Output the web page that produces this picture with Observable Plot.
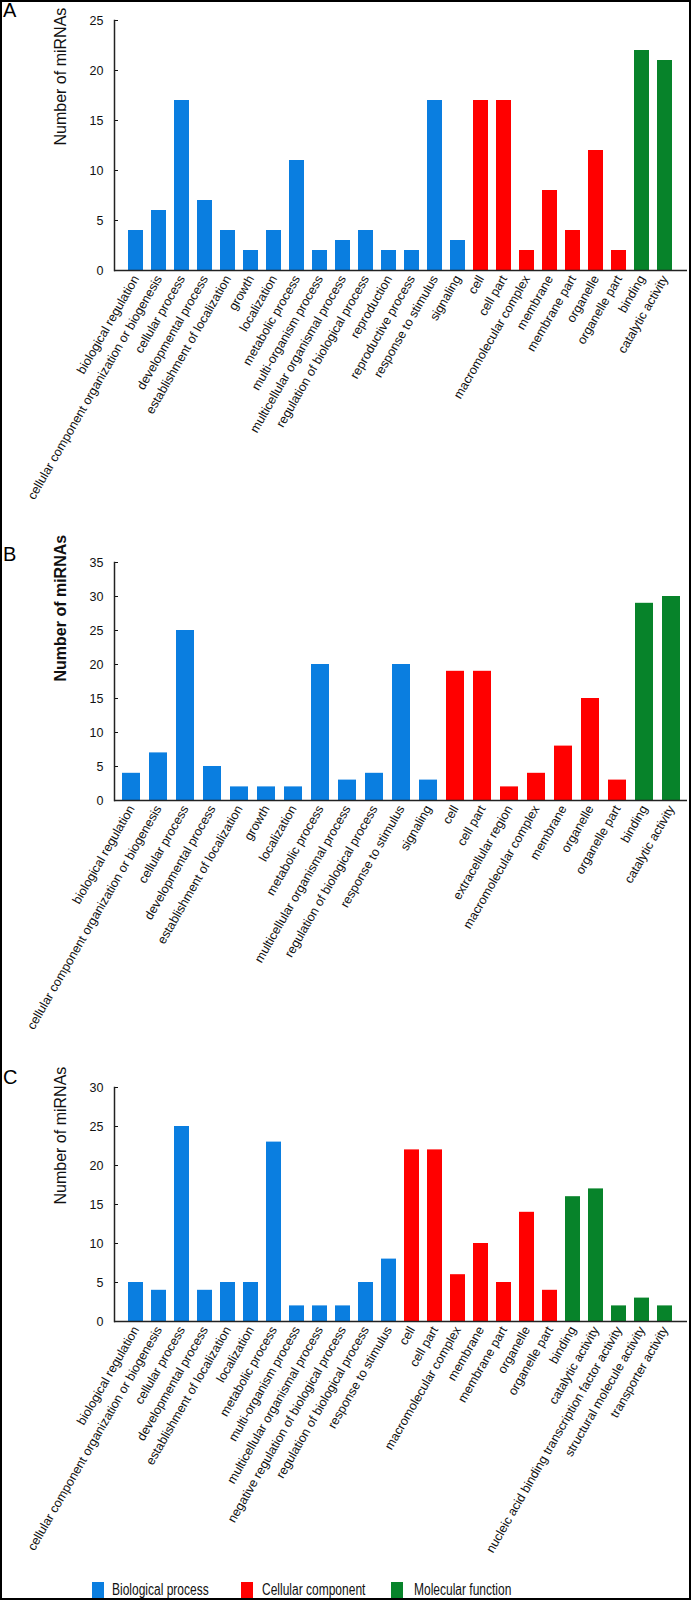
<!DOCTYPE html>
<html>
<head>
<meta charset="utf-8">
<script src="https://cdn.jsdelivr.net/npm/d3@7"></script>
<script src="https://cdn.jsdelivr.net/npm/@observablehq/plot@0.6"></script>
<style>
  body { margin: 0; background: #fff; font-family: "Liberation Sans", Arial, sans-serif; }
  #fig { position: relative; width: 691px; height: 1600px; background: #fff; overflow: hidden; }
  #border { position: absolute; left: 0; top: 0; width: 691px; height: 1600px; box-sizing: border-box; border: 2px solid #000; pointer-events: none; z-index: 5; }
  .panel { position: absolute; left: 0; }
  .letter { position: absolute; left: 3px; font-size: 20px; line-height: 20px; color: #000; }
  .sw { position: absolute; width: 12px; height: 16px; }
  .lg { position: absolute; font-size: 16px; line-height: 16px; color: #111; white-space: nowrap; transform: scaleX(0.75); transform-origin: left center; }
</style>
</head>
<body>
<div id="fig"><div id="border"></div></div>
<script>
// ---------- data ----------
const groupNames = ["Biological process", "Cellular component", "Molecular function"];
const groupColors = ["#0a7ee0", "#ff0000", "#07832a"];
const yTitle = "Number of miRNAs";

// Panel A
const aCategories = [
  "biological regulation", "cellular component organization or biogenesis", "cellular process",
  "developmental process", "establishment of localization", "growth", "localization",
  "metabolic process", "multi-organism process", "multicellular organismal process",
  "regulation of biological process", "reproduction", "reproductive process",
  "response to stimulus", "signaling",
  "cell", "cell part", "macromolecular complex", "membrane", "membrane part", "organelle", "organelle part",
  "binding", "catalytic activity"
];
const aValues = [4, 6, 17, 7, 4, 2, 4, 11, 2, 3, 4, 2, 2, 17, 3, 17, 17, 2, 8, 4, 12, 2, 22, 21];
const aGroupCounts = [15, 7, 2];

// Panel B
const bCategories = [
  "biological regulation", "cellular component organization or biogenesis", "cellular process",
  "developmental process", "establishment of localization", "growth", "localization",
  "metabolic process", "multicellular organismal process", "regulation of biological process",
  "response to stimulus", "signaling",
  "cell", "cell part", "extracellular region", "macromolecular complex", "membrane", "organelle", "organelle part",
  "binding", "catalytic activity"
];
const bValues = [4, 7, 25, 5, 2, 2, 2, 20, 3, 4, 20, 3, 19, 19, 2, 4, 8, 15, 3, 29, 30];
const bGroupCounts = [12, 7, 2];

// Panel C
const cCategories = [
  "biological regulation", "cellular component organization or biogenesis", "cellular process",
  "developmental process", "establishment of localization", "localization", "metabolic process",
  "multi-organism process", "multicellular organismal process",
  "negative regulation of biological process", "regulation of biological process", "response to stimulus",
  "cell", "cell part", "macromolecular complex", "membrane", "membrane part", "organelle", "organelle part",
  "binding", "catalytic activity", "nucleic acid binding transcription factor activity",
  "structural molecule activity", "transporter activity"
];
const cValues = [5, 4, 25, 4, 5, 5, 23, 2, 2, 2, 5, 8, 22, 22, 6, 10, 5, 14, 4, 16, 17, 2, 3, 2];
const cGroupCounts = [12, 7, 5];

// ---------- drawing ----------
function rows(categories, values, counts) {
  const groups = counts.flatMap((n, i) => Array(n).fill(groupNames[i]));
  return categories.map((c, i) => ({category: c, value: values[i], group: groups[i]}));
}

const fig = document.getElementById("fig");

function panel({categories, values, counts, yMax, top, marginTop, plotHeight, marginBottom, titleWeight, letter, letterTop}) {
  const data = rows(categories, values, counts);
  const chart = Plot.plot({
    width: 691,
    height: marginTop + plotHeight + marginBottom,
    marginLeft: 114,
    marginRight: 4,
    marginTop,
    marginBottom,
    style: {fontFamily: "'Liberation Sans', Arial, sans-serif", fontSize: "12px", color: "#111", background: "transparent", overflow: "visible"},
    x: {domain: categories, paddingInner: 0.34, paddingOuter: 0.17, label: null},
    y: {domain: [0, yMax], label: null},
    color: {domain: groupNames, range: groupColors},
    marks: [
      Plot.barY(data, {x: "category", y: "value", fill: "group"}),
      Plot.axisX({tickSize: 0, tickPadding: 6, tickRotate: -60, label: null, fontSize: 12.6}),
      Plot.axisY({ticks: d3.range(0, yMax + 1, 5), tickSize: -4, tickPadding: 15, label: null, fontSize: 12.5}),
      Plot.ruleY([0], {stroke: "#222", strokeWidth: 1.5}),
      Plot.frame({anchor: "left", stroke: "#222", strokeWidth: 1.5}),
      Plot.text([yTitle], {text: d => d, frameAnchor: "left", dx: -54, rotate: -90, fontSize: 16, fontWeight: titleWeight, fill: "#111"})
    ]
  });
  chart.classList.add("panel");
  chart.style.top = top + "px";
  fig.appendChild(chart);
  const l = document.createElement("div");
  l.className = "letter";
  l.textContent = letter;
  l.style.top = letterTop + "px";
  fig.appendChild(l);
}

panel({categories: aCategories, values: aValues, counts: aGroupCounts, yMax: 25,
  top: 0, marginTop: 20, plotHeight: 250, marginBottom: 250, titleWeight: "normal", letter: "A", letterTop: 0});
panel({categories: bCategories, values: bValues, counts: bGroupCounts, yMax: 35,
  top: 540, marginTop: 22, plotHeight: 238, marginBottom: 240, titleWeight: "bold", letter: "B", letterTop: 544});
panel({categories: cCategories, values: cValues, counts: cGroupCounts, yMax: 30,
  top: 1065, marginTop: 22, plotHeight: 234, marginBottom: 250, titleWeight: "normal", letter: "C", letterTop: 1067});

// legend
const swX = [92, 241, 391];
const txX = [112, 262, 414];
groupNames.forEach((name, i) => {
  const s = document.createElement("div");
  s.className = "sw";
  s.style.left = swX[i] + "px";
  s.style.top = "1582px";
  s.style.background = groupColors[i];
  fig.appendChild(s);
  const t = document.createElement("div");
  t.className = "lg";
  t.textContent = name;
  t.style.left = txX[i] + "px";
  t.style.top = "1582px";
  fig.appendChild(t);
});
</script>
</body>
</html>
